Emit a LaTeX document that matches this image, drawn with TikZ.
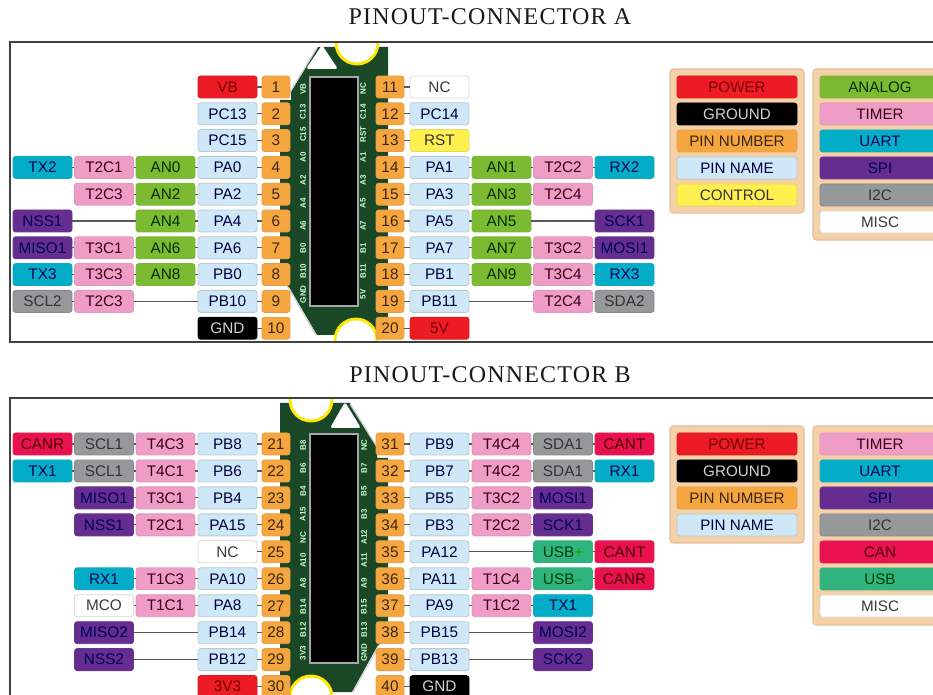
\documentclass[tikz,border=0pt]{standalone}
\usepackage{fontspec}
\setmainfont{Liberation Sans}
\newfontfamily\titlefont[LetterSpace=5]{Liberation Serif}
\definecolor{cRed}{HTML}{ED1C24}
\definecolor{cOrange}{HTML}{F6A63F}
\definecolor{cBlue}{HTML}{CFE8F7}
\definecolor{cYellow}{HTML}{FFF04F}
\definecolor{cGreen}{HTML}{7CBA31}
\definecolor{cPink}{HTML}{EF9CC6}
\definecolor{cCyan}{HTML}{03ADC8}
\definecolor{cPurple}{HTML}{662D91}
\definecolor{cGrey}{HTML}{96989A}
\definecolor{cCrimson}{HTML}{E9124F}
\definecolor{cTeal}{HTML}{2FB47F}
\definecolor{cPanel}{HTML}{F6D0A6}
\definecolor{cBoard}{HTML}{1A4726}
\tikzset{
  x=0.75pt,y=-0.75pt,
  sty/.style={#1},
  box/.style={rectangle,rounded corners=2pt,inner sep=0pt,minimum width=44.25pt,minimum height=16.5pt,
    font=\fontsize{11.5}{12}\selectfont,line width=0.6pt},
  bRed/.style={fill=cRed,draw=cRed!90!black,text=red!45!black},
  bBlack/.style={fill=black,draw=black,text=black!18},
  bNum/.style={fill=cOrange,draw=cOrange!85!gray,text=black!70!brown,minimum width=21pt},
  bName/.style={fill=cBlue,draw=cBlue!70!gray,text=black!75!blue},
  bCtl/.style={fill=cYellow,draw=cYellow!80!gray,text=black!80},
  bAn/.style={fill=cGreen,draw=cGreen!90!gray,text=black!70!green!60!black},
  bTim/.style={fill=cPink,draw=cPink!85!gray,text=black!70!purple},
  bUart/.style={fill=cCyan,draw=cCyan!90!gray,text=black!65!blue},
  bSpi/.style={fill=cPurple,draw=cPurple!90!gray,text=black!65!blue},
  bI2c/.style={fill=cGrey,draw=cGrey!90!black,text=black!80},
  bMisc/.style={fill=white,draw=black!15,text=black!78},
  bCan/.style={fill=cCrimson,draw=cCrimson!90!gray,text=black!70!red},
  bUsb/.style={fill=cTeal,draw=cTeal!90!gray,text=black!75!green},
  conn/.style={draw=black!65,line width=0.8pt},
  legbox/.style={minimum width=90pt,minimum height=16.5pt,font=\fontsize{11.4}{12}\selectfont},
  panel/.style={fill=cPanel,draw=cPanel!80!gray,line width=0.8pt,rounded corners=2.5pt},
  boardshape/.style={fill=cBoard,draw=none},
  edgeline/.style={draw=black!18,line width=0.9pt},
  hole/.style={fill=white,draw=yellow!90!orange,line width=2.2pt},
  chip/.style={fill=black,draw=black!35,line width=0.9pt},
  silk/.style={font=\fontsize{6}{6}\bfseries\selectfont,text=white!80!green,rotate=90,inner sep=0pt},
  framea/.style={draw=black!75,line width=1pt},
  ttl/.style={font=\titlefont\fontsize{18}{20}\selectfont,text=black!90,inner sep=0pt},
}
\def\cola{42.5}\def\colb{104}\def\colc{165.5}\def\cold{227.5}\def\cole{276}
\def\colf{390}\def\colg{439.5}\def\colh{501.5}\def\coli{563}\def\colj{624.5}
\def\nonex{x}
\newcommand\pinrow[3]{%
  \foreach \cl/\sy/\tx [remember=\cl as \lastc (initially x)] in {#3} {
    \node[box,sty/.expand once=\sy] (r#1\cl) at (\csname col\cl\endcsname,#2) {\tx};
    \ifx\lastc\nonex\else \draw[conn] (r#1\lastc) -- (r#1\cl); \fi
  }}
\newcommand\legendcol[3]{%
  \foreach \yy/\sy/\tx [count=\i] in {#3} {
    \node[box,sty/.expand once=\sy,legbox] (#1\i) at (#2,\yy) {\tx};
  }}
\begin{document}
\begin{tikzpicture}
\clip (0,0) rectangle (933,695);
% titles
\node[ttl] (titleA) at (490,17) {PINOUT-CONNECTOR A};
\node[ttl] (titleB) at (490,375) {PINOUT-CONNECTOR B};
% board A
\draw[boardshape] (318,47) -- (291,92) -- (291,100) -- (280,100) -- (280,283) -- (289,287) -- (317,335) -- (388,335) -- (388,47) -- cycle;
\draw[edgeline] (317,48) -- (290,92);
\draw[edgeline] (288,287) -- (316,335);
\begin{scope}
  \clip (300,43) rectangle (400,342);
  \draw[hole] (357,43) circle (21);
  \draw[hole] (356,340) circle (21);
\end{scope}
\fill[white,rounded corners=2pt] (322,45) -- (338,69) -- (306,69) -- cycle;
\draw[chip] (310,77) rectangle (358,306);
% board B
\draw[boardshape] (280,403) -- (350,403) -- (377,447) -- (377,458) -- (388,458) -- (388,640) -- (378,645) -- (352,692) -- (280,692) -- cycle;
\draw[edgeline] (350,404) -- (377,447);
\draw[edgeline] (379,645) -- (353,692);
\begin{scope}
  \clip (285,399) rectangle (345,695);
  \draw[hole] (311,400) circle (21);
  \draw[hole] (311,697) circle (21);
\end{scope}
\fill[white,rounded corners=2pt] (345,402) -- (361,428) -- (330,428) -- cycle;
\draw[chip] (310,434) rectangle (358,663);
% frames
\draw[framea] (940,42) -- (10,42) -- (10,342) -- (940,342);
\draw[framea] (940,398) -- (10,398) -- (10,700);
% silk labels
\foreach \t [count=\i from 0] in {VB,C13,C15,A0,A2,A4,A6,B0,B10,GND}
  \node[silk] (sla\i) at (303,89+22.8*\i) {\t};
\foreach \t [count=\i from 0] in {NC,C14,RST,A1,A3,A5,A7,B1,B11,5V}
  \node[silk] (sra\i) at (363,89+22.8*\i) {\t};
\foreach \t [count=\i from 0] in {B8,B6,B4,A15,NC,A10,A8,B14,B12,3V3}
  \node[silk] (slb\i) at (303,445+23.1*\i) {\t};
\foreach \t [count=\i from 0] in {NC,B7,B5,B3,A12,A11,A9,B15,B13,GND}
  \node[silk] (srb\i) at (364,445+23.1*\i) {\t};
% connector A, left
\pinrow{1}{87}{e/bNum/1,d/bRed/VB}
\pinrow{2}{113.8}{e/bNum/2,d/bName/PC13}
\pinrow{3}{140.6}{e/bNum/3,d/bName/PC15}
\pinrow{4}{167.4}{e/bNum/4,d/bName/PA0,c/bAn/AN0,b/bTim/T2C1,a/bUart/TX2}
\pinrow{5}{194.2}{e/bNum/5,d/bName/PA2,c/bAn/AN2,b/bTim/T2C3}
\pinrow{6}{221}{e/bNum/6,d/bName/PA4,c/bAn/AN4,a/bSpi/NSS1}
\pinrow{7}{247.8}{e/bNum/7,d/bName/PA6,c/bAn/AN6,b/bTim/T3C1,a/bSpi/MISO1}
\pinrow{8}{274.6}{e/bNum/8,d/bName/PB0,c/bAn/AN8,b/bTim/T3C3,a/bUart/TX3}
\pinrow{9}{301.4}{e/bNum/9,d/bName/PB10,b/bTim/T2C3,a/bI2c/SCL2}
\pinrow{10}{328.2}{e/bNum/10,d/bBlack/GND}
% connector A, right
\pinrow{11}{87}{f/bNum/11,g/bMisc/NC}
\pinrow{12}{113.8}{f/bNum/12,g/bName/PC14}
\pinrow{13}{140.6}{f/bNum/13,g/bCtl/RST}
\pinrow{14}{167.4}{f/bNum/14,g/bName/PA1,h/bAn/AN1,i/bTim/T2C2,j/bUart/RX2}
\pinrow{15}{194.2}{f/bNum/15,g/bName/PA3,h/bAn/AN3,i/bTim/T2C4}
\pinrow{16}{221}{f/bNum/16,g/bName/PA5,h/bAn/AN5,j/bSpi/SCK1}
\pinrow{17}{247.8}{f/bNum/17,g/bName/PA7,h/bAn/AN7,i/bTim/T3C2,j/bSpi/MOSI1}
\pinrow{18}{274.6}{f/bNum/18,g/bName/PB1,h/bAn/AN9,i/bTim/T3C4,j/bUart/RX3}
\pinrow{19}{301.4}{f/bNum/19,g/bName/PB11,i/bTim/T2C4,j/bI2c/SDA2}
\pinrow{20}{328.2}{f/bNum/20,g/bRed/5V}
% connector B, left
\pinrow{21}{444}{e/bNum/21,d/bName/PB8,c/bTim/T4C3,b/bI2c/SCL1,a/bCan/CANR}
\pinrow{22}{471}{e/bNum/22,d/bName/PB6,c/bTim/T4C1,b/bI2c/SCL1,a/bUart/TX1}
\pinrow{23}{497.9}{e/bNum/23,d/bName/PB4,c/bTim/T3C1,b/bSpi/MISO1}
\pinrow{24}{524.9}{e/bNum/24,d/bName/PA15,c/bTim/T2C1,b/bSpi/NSS1}
\pinrow{25}{551.8}{e/bNum/25,d/bMisc/NC}
\pinrow{26}{578.8}{e/bNum/26,d/bName/PA10,c/bTim/T1C3,b/bUart/RX1}
\pinrow{27}{605.7}{e/bNum/27,d/bName/PA8,c/bTim/T1C1,b/bMisc/MCO}
\pinrow{28}{632.7}{e/bNum/28,d/bName/PB14,b/bSpi/MISO2}
\pinrow{29}{659.6}{e/bNum/29,d/bName/PB12,b/bSpi/NSS2}
\pinrow{30}{686.6}{e/bNum/30,d/bRed/3V3}
% connector B, right
\pinrow{31}{444}{f/bNum/31,g/bName/PB9,h/bTim/T4C4,i/bI2c/SDA1,j/bCan/CANT}
\pinrow{32}{471}{f/bNum/32,g/bName/PB7,h/bTim/T4C2,i/bI2c/SDA1,j/bUart/RX1}
\pinrow{33}{497.9}{f/bNum/33,g/bName/PB5,h/bTim/T3C2,i/bSpi/MOSI1}
\pinrow{34}{524.9}{f/bNum/34,g/bName/PB3,h/bTim/T2C2,i/bSpi/SCK1}
\pinrow{35}{551.8}{f/bNum/35,g/bName/PA12,i/bUsb/USB\textcolor{green!70!black}{+},j/bCan/CANT}
\pinrow{36}{578.8}{f/bNum/36,g/bName/PA11,h/bTim/T1C4,i/bUsb/USB\textcolor{green!70!black}{–},j/bCan/CANR}
\pinrow{37}{605.7}{f/bNum/37,g/bName/PA9,h/bTim/T1C2,i/bUart/TX1}
\pinrow{38}{632.7}{f/bNum/38,g/bName/PB15,i/bSpi/MOSI2}
\pinrow{39}{659.6}{f/bNum/39,g/bName/PB13,i/bSpi/SCK2}
\pinrow{40}{686.6}{f/bNum/40,g/bBlack/GND}
% legends A
\draw[panel] (670,69) rectangle (804,213);
\draw[panel] (813,69) rectangle (950,240);
\legendcol{la}{737}{87/bRed/POWER,114/bBlack/GROUND,141/bNum/PIN NUMBER,168/bName/PIN NAME,195/bCtl/CONTROL}
\legendcol{lb}{880}{87/bAn/ANALOG,114/bTim/TIMER,141/bUart/UART,168/bSpi/SPI,195/bI2c/I2C,222/bMisc/MISC}
% legends B
\draw[panel] (670,426) rectangle (804,543);
\draw[panel] (813,426) rectangle (950,625);
\legendcol{lc}{737}{444/bRed/POWER,471/bBlack/GROUND,498/bNum/PIN NUMBER,525/bName/PIN NAME}
\legendcol{ld}{880}{444/bTim/TIMER,471/bUart/UART,498/bSpi/SPI,525/bI2c/I2C,552/bCan/CAN,579/bUsb/USB,606/bMisc/MISC}
\end{tikzpicture}
\end{document}
